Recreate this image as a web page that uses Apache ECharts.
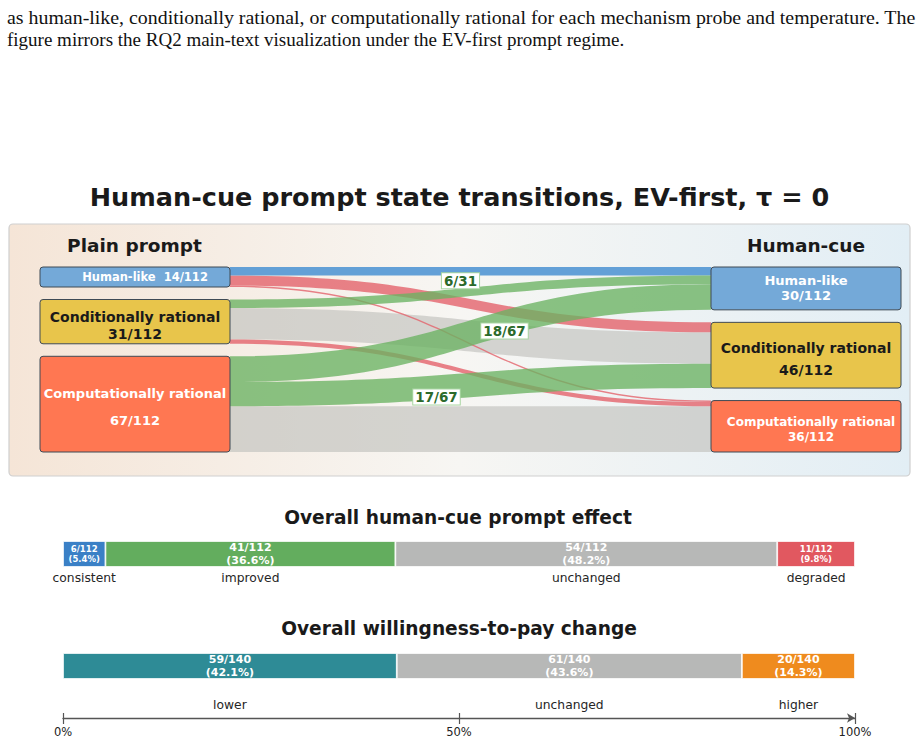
<!DOCTYPE html>
<html>
<head>
<meta charset="utf-8">
<title>Human-cue prompt state transitions</title>
<script src="https://cdn.jsdelivr.net/npm/echarts@6/dist/echarts.min.js"></script>
<style>
  html, body { margin: 0; padding: 0; background: #fff; }
  #chart { width: 919px; height: 743px; }
</style>
</head>
<body>
<div id="chart"></div>
<script>
  // page text above the figure
  const captionLines = [
    'as human-like, conditionally rational, or computationally rational for each mechanism probe and temperature. The',
    'figure mirrors the RQ2 main-text visualization under the EV-first prompt regime.'
  ];

  const states = ['Human-like', 'Conditionally rational', 'Computationally rational'];
  // [plain prompt state, human-cue state, count]
  const transitions = [
    [0, 0, 6], [0, 1, 7], [0, 2, 1],
    [1, 0, 6], [1, 1, 22], [1, 2, 3],
    [2, 0, 18], [2, 1, 17], [2, 2, 32]
  ];
  const totalProbes = 112;

  const effectNames = ['consistent', 'improved', 'unchanged', 'degraded'];
  const effectCounts = [6, 41, 54, 11];
  const wtpNames = ['lower', 'unchanged', 'higher'];
  const wtpCounts = [59, 61, 20];
  const wtpTotal = 140;

  const FONT = 'DejaVu Sans';
  const stateColors = ['#74a9d8', '#e8c54b', '#ff7752'];
  const flowColors = {
    consistent: ['#5b9bd5', 0.95],
    unchanged: ['#c4c4c1', 0.7],
    improved: ['#6ab262', 0.78],
    degraded: ['#e4636b', 0.8]
  };
  const effectColors = ['#3a80c6', '#63ad5e', '#b7b8b7', '#e15860'];
  const wtpColors = ['#2e8b96', '#b7b8b7', '#ef8b1e'];

  // per-node label styling (left column 'L', right column 'R')
  const nodeLabel = {
    L0: { fontSize: 11.5, color: '#fff', lineHeight: 14, oneLine: true, offset: [10, 0] },
    L1: { fontSize: 14, color: '#1a1a1a', lineHeight: 17, offset: [0, 4] },
    L2: { fontSize: 13, color: '#fff', lineHeight: 27, offset: [0, 3] },
    R0: { fontSize: 13, color: '#fff', lineHeight: 15, offset: [0, 0] },
    R1: { fontSize: 14, color: '#1a1a1a', lineHeight: 22, offset: [0, 4] },
    R2: { fontSize: 12, color: '#fff', lineHeight: 15, offset: [5, 3] }
  };
  const edgeLabelShift = { '1-0': [-10, -11], '2-0': [34, -2], '2-1': [-34, 12] };

  const plainCounts = states.map((s, i) => transitions.filter(t => t[0] === i).reduce((a, t) => a + t[2], 0));
  const cueCounts = states.map((s, i) => transitions.filter(t => t[1] === i).reduce((a, t) => a + t[2], 0));

  function kindOf(from, to) {
    if (from === to) return from === 0 ? 'consistent' : 'unchanged';
    return to < from ? 'improved' : 'degraded';
  }

  const nodes = [];
  ['L', 'R'].forEach(side => {
    states.forEach((s, i) => {
      const key = side + i;
      const st = nodeLabel[key];
      const count = side === 'L' ? plainCounts[i] : cueCounts[i];
      nodes.push({
        name: key,
        itemStyle: { color: stateColors[i] },
        label: {
          formatter: st.oneLine ? s + '  ' + count + '/' + totalProbes : s + '\n' + count + '/' + totalProbes,
          fontSize: st.fontSize,
          color: st.color,
          lineHeight: st.lineHeight,
          offset: st.offset
        }
      });
    });
  });

  // draw grey first, then red/blue, green last so its labels sit on top
  const drawOrder = ['unchanged', 'degraded', 'consistent', 'improved'];
  const links = [];
  drawOrder.forEach(kind => {
    transitions.forEach(t => {
      if (kindOf(t[0], t[1]) !== kind) return;
      const c = flowColors[kind];
      const link = {
        source: 'L' + t[0],
        target: 'R' + t[1],
        value: t[2],
        lineStyle: { color: c[0], opacity: c[1] }
      };
      if (kind === 'improved') {
        link.edgeLabel = {
          show: true,
          formatter: t[2] + '/' + plainCounts[t[0]],
          offset: edgeLabelShift[t[0] + '-' + t[1]]
        };
      }
      links.push(link);
    });
  });

  function pct(c, tot) { return (c / tot * 100).toFixed(1); }

  const series = [{
    type: 'sankey',
    left: 40, top: 267, right: 18, bottom: 291,
    nodeWidth: 190,
    nodeGap: 12.5,
    layoutIterations: 0,
    nodeAlign: 'justify',
    draggable: false,
    silent: true,
    emphasis: { disabled: true },
    data: nodes,
    links: links,
    itemStyle: { borderColor: '#3f4a55', borderWidth: 1, borderRadius: 3 },
    lineStyle: { curveness: 0.5 },
    label: { show: true, position: 'inside', fontFamily: FONT, fontWeight: 'bold' },
    edgeLabel: {
      show: false,
      fontFamily: FONT, fontWeight: 'bold', fontSize: 13.5, color: '#2b6a2b',
      backgroundColor: '#ffffff', borderColor: '#a9d6a3', borderWidth: 1,
      padding: [1, 2, 0, 2]
    }
  }];

  function addStrip(names, counts, colors, total, gridIndex, stack, nameGap) {
    let acc = 0;
    const mids = [];
    counts.forEach((c, i) => {
      const share = c / total;
      mids.push(acc + share / 2);
      acc += share;
      const small = share < 0.12;
      series.push({
        type: 'bar',
        xAxisIndex: gridIndex, yAxisIndex: gridIndex,
        stack: stack,
        barWidth: '100%',
        silent: true,
        data: [share],
        itemStyle: { color: colors[i], borderColor: '#ffffff', borderWidth: 0.8 },
        label: {
          show: true, position: 'inside',
          formatter: c + '/' + total + '\n(' + pct(c, total) + '%)',
          color: '#ffffff', fontFamily: FONT, fontWeight: 'bold',
          fontSize: small ? 8.5 : 11, lineHeight: small ? 10 : 12.8
        }
      });
    });
    series.push({
      type: 'custom',
      xAxisIndex: gridIndex, yAxisIndex: gridIndex,
      silent: true,
      data: mids.map(m => [m, 0]),
      renderItem: function (params, api) {
        const p = api.coord([api.value(0), 0]);
        return {
          type: 'text',
          x: p[0], y: p[1] + nameGap,
          style: {
            text: names[params.dataIndex],
            fontFamily: FONT, fontSize: 12.3, fill: '#262626',
            align: 'center', verticalAlign: 'middle'
          }
        };
      }
    });
  }

  addStrip(effectNames, effectCounts, effectColors, effectCounts.reduce((a, b) => a + b, 0), 0, 'effect', 24);
  addStrip(wtpNames, wtpCounts, wtpColors, wtpTotal, 1, 'wtp', 39);

  const axisGrey = '#555555';
  const option = {
    animation: false,
    backgroundColor: '#ffffff',
    grid: [
      { left: 63, width: 792, top: 541, height: 26 },
      { left: 63, width: 792, top: 653, height: 26 }
    ],
    xAxis: [
      { gridIndex: 0, type: 'value', min: 0, max: 1, show: false },
      {
        gridIndex: 1, type: 'value', min: 0, max: 1, interval: 0.5,
        position: 'bottom', offset: 39,
        axisLine: { show: true, lineStyle: { color: axisGrey, width: 1.4 }, symbol: ['none', 'arrow'], symbolSize: [7, 8] },
        axisTick: { show: true, length: 6, lineStyle: { color: axisGrey, width: 1.2 } },
        axisLabel: { formatter: v => Math.round(v * 100) + '%', fontFamily: FONT, fontSize: 11.5, color: '#222', margin: 8 },
        splitLine: { show: false }
      },
      {
        gridIndex: 1, type: 'value', min: 0, max: 1, interval: 0.5,
        position: 'bottom', offset: 39,
        axisLine: { show: false },
        axisTick: { show: true, inside: true, length: 5, lineStyle: { color: axisGrey, width: 1.2 } },
        axisLabel: { show: false },
        splitLine: { show: false }
      }
    ],
    yAxis: [
      { gridIndex: 0, type: 'category', data: ['effect'], show: false },
      { gridIndex: 1, type: 'category', data: ['wtp'], show: false }
    ],
    graphic: [
      {
        type: 'text', left: 7, top: 8, scaleX: 1.047,
        style: { text: captionLines[0], font: '19px "Liberation Serif"', fill: '#111' }
      },
      {
        type: 'text', left: 7, top: 30,
        style: { text: captionLines[1], font: '19px "Liberation Serif"', fill: '#111' }
      },
      {
        type: 'rect', z: -10,
        shape: { x: 9, y: 224, width: 901, height: 252, r: 4 },
        style: {
          fill: {
            type: 'linear', x: 0, y: 0, x2: 1, y2: 0,
            colorStops: [
              { offset: 0, color: '#f5e5d7' },
              { offset: 0.5, color: '#f7f6f3' },
              { offset: 1, color: '#e2eef5' }
            ]
          },
          stroke: '#cfcfcf', lineWidth: 1.2
        }
      },
      {
        type: 'text', x: 459.5, y: 197,
        style: { text: 'Human-cue prompt state transitions, EV-first, τ = 0', font: 'bold 25.5px "DejaVu Sans"', fill: '#1a1a1a', align: 'center', verticalAlign: 'middle' }
      },
      {
        type: 'text', x: 134.5, y: 245,
        style: { text: 'Plain prompt', font: 'bold 18.5px "DejaVu Sans"', fill: '#1a1a1a', align: 'center', verticalAlign: 'middle' }
      },
      {
        type: 'text', x: 806, y: 245,
        style: { text: 'Human-cue', font: 'bold 18.5px "DejaVu Sans"', fill: '#1a1a1a', align: 'center', verticalAlign: 'middle' }
      },
      {
        type: 'text', x: 458, y: 517,
        style: { text: 'Overall human-cue prompt effect', font: 'bold 18.6px "DejaVu Sans"', fill: '#1a1a1a', align: 'center', verticalAlign: 'middle' }
      },
      {
        type: 'text', x: 459, y: 628,
        style: { text: 'Overall willingness-to-pay change', font: 'bold 18.6px "DejaVu Sans"', fill: '#1a1a1a', align: 'center', verticalAlign: 'middle' }
      }
    ],
    series: series
  };

  const chart = echarts.init(document.getElementById('chart'), null, { renderer: 'svg' });
  chart.setOption(option);
</script>
</body>
</html>
